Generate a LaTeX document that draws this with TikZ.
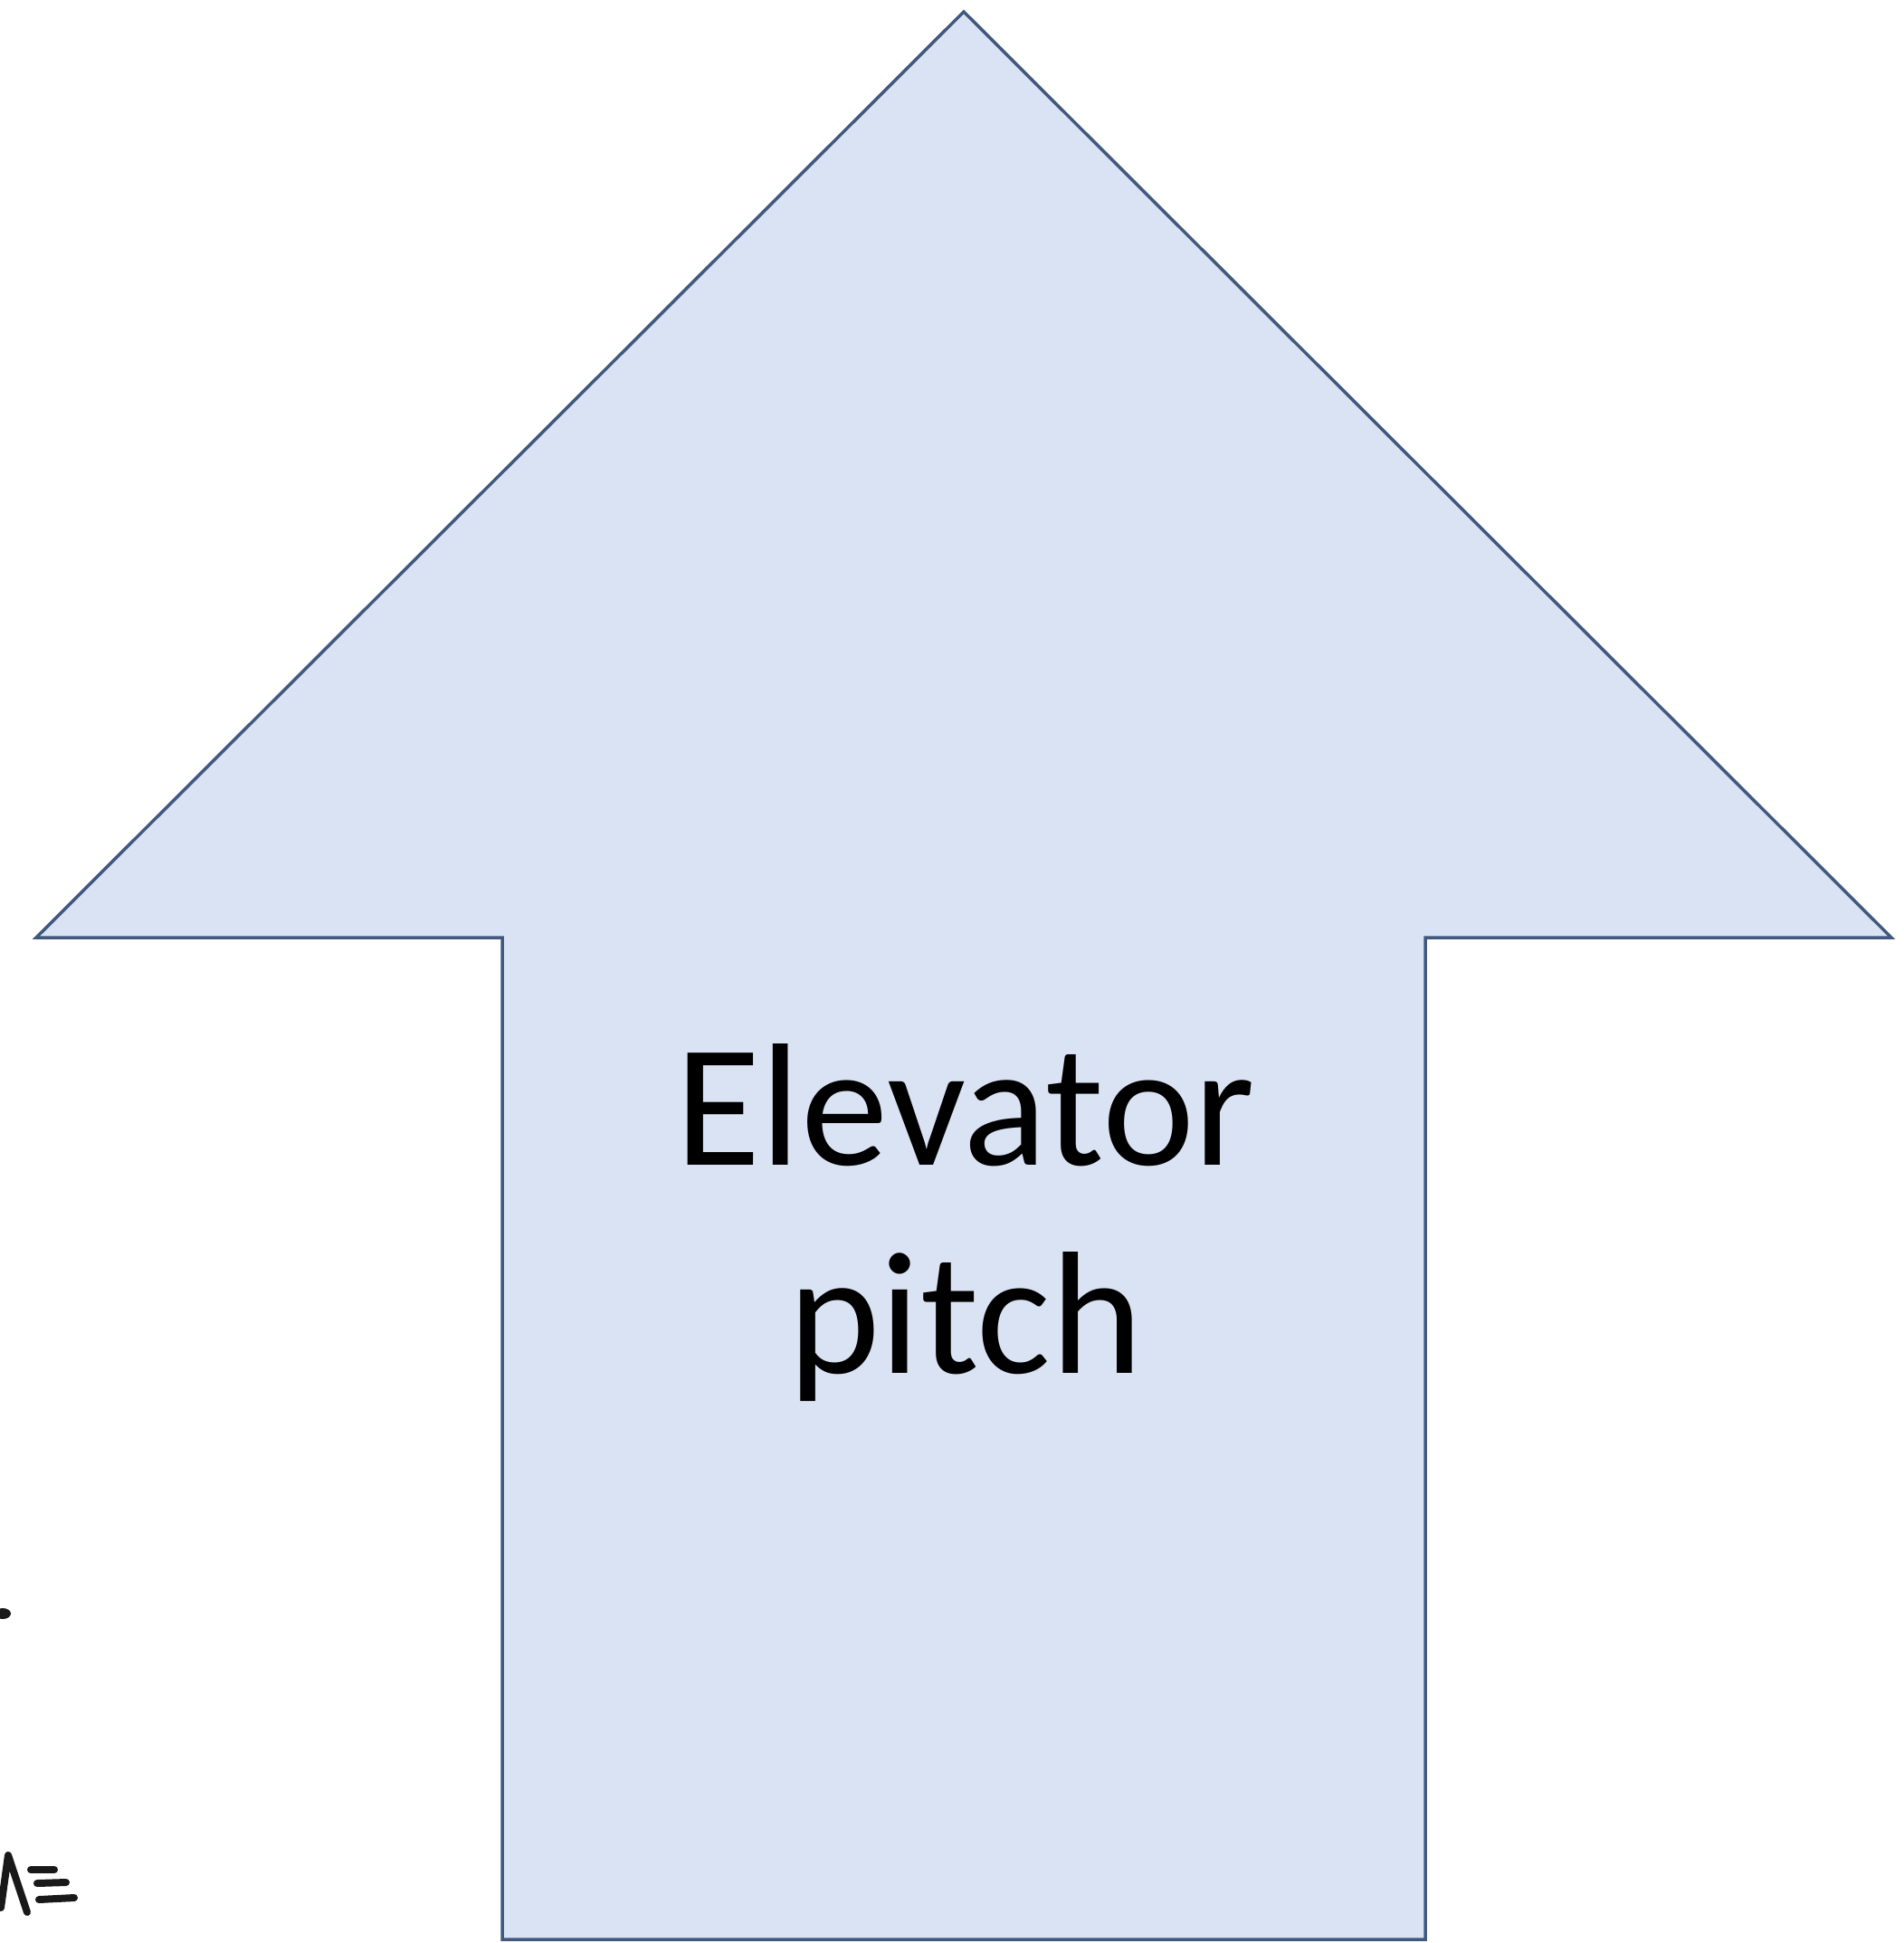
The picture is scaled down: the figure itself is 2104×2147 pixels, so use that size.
\documentclass[tikz,border=0pt]{standalone}
\usepackage{fontspec}
\setmainfont{Carlito}
\definecolor{arrowfill}{HTML}{DAE3F3}
\definecolor{arrowline}{HTML}{41587F}
\tikzset{
  bigarrow/.style={fill=arrowfill, draw=arrowline, line width=3.5pt, line join=miter},
  label/.style={font=\fontsize{193}{230}\selectfont, align=center, inner sep=0pt, text=black},
  scribble/.style={draw=black!90, line width=8pt, line cap=round, line join=round}
}
\begin{document}
\begin{tikzpicture}[x=1pt,y=-1pt]
  \useasboundingbox (0,0) rectangle (2104,2147);
  \fill[white] (0,0) rectangle (2104,2147);
  % arrow
  \coordinate (tip) at (1065,13);
  \coordinate (lw) at (40,1036);
  \coordinate (ls) at (555,1036);
  \coordinate (lb) at (555,2143);
  \coordinate (rb) at (1575,2143);
  \coordinate (rs) at (1575,1036);
  \coordinate (rw) at (2090,1036);
  \draw[bigarrow] (tip) -- (rw) -- (rs) -- (rb) -- (lb) -- (ls) -- (lw) -- cycle;
  \node[label, anchor=base] (txt) at (1067,1517) {Elevator\\pitch};
  % cropped handwriting fragments at the left edge
  \fill[black!90] (3,1783) ellipse (9pt and 6pt);
  \draw[scribble] (1,2108) -- (9,2050) -- (30,2113);
  \draw[scribble] (34,2066) -- (60,2066);
  \draw[scribble] (41,2081) -- (73,2080);
  \draw[scribble] (43,2099) -- (82,2097);
\end{tikzpicture}
\end{document}
